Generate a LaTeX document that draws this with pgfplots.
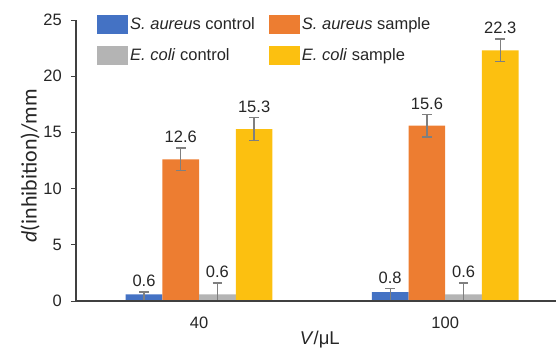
\documentclass[border=0pt]{standalone}
\usepackage{fontspec}
\setmainfont{Liberation Sans}
\newfontfamily\calibri{Carlito}
\usepackage{pgfplots}
\usepackage{pgfplotstable}
\usetikzlibrary{calc}
\pgfplotsset{compat=1.18}
\definecolor{cblue}{HTML}{4472C4}
\definecolor{corange}{HTML}{ED7D31}
\definecolor{cgray}{HTML}{B4B4B4}
\definecolor{cyellow}{HTML}{FCC010}
\definecolor{cerr}{HTML}{7F7F7F}
\definecolor{caxis}{HTML}{404040}

\pgfplotstableread{
x y ep em
0 0.6 0.2 0.6
1 0.8 0.3 0.8
}\sacontrol
\pgfplotstableread{
x y ep em
0 12.6 1.0 1.0
1 15.6 1.0 1.0
}\sasample
\pgfplotstableread{
x y ep em
0 0.6 1.0 0.6
1 0.6 1.0 0.6
}\eccontrol
\pgfplotstableread{
x y ep em
0 15.3 1.0 1.0
1 22.3 1.0 1.0
}\ecsample

\newcommand{\fs}{\fontsize{16.5bp}{20bp}\selectfont}

\begin{document}
\begin{tikzpicture}
\begin{axis}[
  width=480bp, height=281bp, scale only axis,
  xmin=-0.5, xmax=1.45, ymin=0, ymax=25,
  clip=false, axis on top,
  ybar=0pt, bar width=36.7bp,
  axis x line*=bottom, axis y line*=left,
  axis line style={-, line width=1.1bp, color=caxis},
  xtick={0,1}, xticklabels={40,100},
  x tick style={draw=none},
  ytick={0,5,10,15,20,25},
  y tick style={line width=1bp, color=caxis},
  tick align=outside, major tick length=5bp,
  /pgf/number format/assume math mode=true,
  tick label style={font=\fs, text=black!85},
  xticklabel style={anchor=base, yshift=-22bp},
  yticklabel style={anchor=east, inner sep=0pt, xshift=-9bp},
  xlabel={\textit{V}/μL},
  xlabel style={font=\fontsize{18.5bp}{22bp}\selectfont, text=black!85, at={(axis description cs:0.508,0)}, anchor=base, yshift=-43bp},
  ylabel={\calibri\textit{d}(inhibition)/mm},
  ylabel style={font=\fontsize{22bp}{26bp}\selectfont, text=black!85, at={(axis description cs:-0.0958,0.482)}, anchor=center},
  error bars/y dir=both, error bars/y explicit,
  error bars/error mark=-,
  error bars/error mark options={rotate=90, line width=1.3bp, color=cerr, mark size=4.8bp},
  error bars/error bar style={line width=1.3bp, color=cerr},
  visualization depends on={\thisrow{ep}\as\ep},
  nodes near coords,
  nodes near coords style={font=\fs, text=black!85, anchor=south, inner sep=0pt, shift={(axis direction cs:0,\ep)}, yshift=5bp},
  legend columns=2,
  legend cell align=left,
  legend style={at={(axis description cs:0,1)}, anchor=north west, xshift=21bp, yshift=5bp, draw=none, fill=none, inner sep=0pt, font=\fs, row sep=12bp, /tikz/every even column/.append style={column sep=12bp}, nodes={inner xsep=2bp, inner ysep=0pt, text=black!85}},
  legend image code/.code={\fill[#1] (0bp,-9.5bp) rectangle (31bp,9.5bp);},
]
\addplot[fill=cblue, draw=none] table[x=x, y=y, y error plus=ep, y error minus=em] {\sacontrol};
\addlegendentry{\textit{S. aureu}s control}
\addplot[fill=corange, draw=none] table[x=x, y=y, y error plus=ep, y error minus=em] {\sasample};
\addlegendentry{\textit{S. aureus} sample}
\addplot[fill=cgray, draw=none] table[x=x, y=y, y error plus=ep, y error minus=em] {\eccontrol};
\addlegendentry{\textit{E. coli} control}
\addplot[fill=cyellow, draw=none] table[x=x, y=y, y error plus=ep, y error minus=em] {\ecsample};
\addlegendentry{\textit{E. coli} sample}
\coordinate (O) at (rel axis cs:0,0);
\coordinate (T) at (rel axis cs:1,1);
\end{axis}
\pgfresetboundingbox
\path (O) ++(-76bp,-47bp) rectangle ($(T)+(0bp,20bp)$);
\end{tikzpicture}
\end{document}
